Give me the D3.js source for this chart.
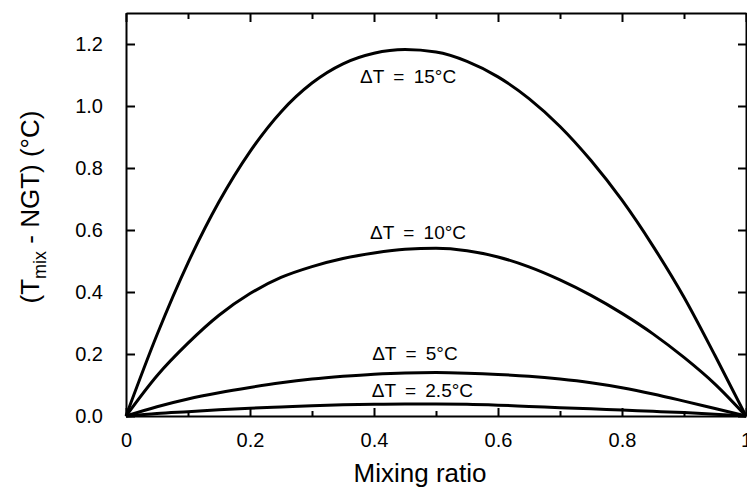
<!DOCTYPE html>
<html>
<head>
<meta charset="utf-8">
<script src="https://cdn.jsdelivr.net/npm/d3@7"></script>
<style>
  html, body { margin: 0; padding: 0; background: #fff; }
  svg { display: block; font-family: "Liberation Sans", Arial, Helvetica, sans-serif; }
</style>
</head>
<body>
<svg id="chart" width="747" height="489"></svg>
<script>
// ---- data ----
const mixingRatio = [0, 0.05, 0.1, 0.15, 0.2, 0.25, 0.3, 0.35, 0.4, 0.45, 0.5, 0.55, 0.6, 0.65, 0.7, 0.75, 0.8, 0.85, 0.9, 0.95, 1.0];
const dT15  = [0, 0.262, 0.494, 0.691, 0.853, 0.981, 1.074, 1.136, 1.170, 1.182, 1.174, 1.144, 1.094, 1.024, 0.934, 0.824, 0.696, 0.548, 0.383, 0.195, 0];
const dT10  = [0, 0.13, 0.235, 0.325, 0.395, 0.447, 0.482, 0.508, 0.526, 0.538, 0.541, 0.533, 0.513, 0.481, 0.439, 0.389, 0.331, 0.265, 0.189, 0.103, 0];
const dT5   = [0, 0.030, 0.055, 0.075, 0.092, 0.107, 0.119, 0.128, 0.135, 0.139, 0.140, 0.138, 0.134, 0.128, 0.119, 0.107, 0.091, 0.071, 0.048, 0.024, 0];
const dT2_5 = [0, 0.008, 0.014, 0.02, 0.025, 0.029, 0.033, 0.036, 0.038, 0.039, 0.039, 0.038, 0.035, 0.031, 0.027, 0.023, 0.019, 0.015, 0.011, 0.006, 0];
const seriesNames = ["ΔT = 15°C", "ΔT = 10°C", "ΔT = 5°C", "ΔT = 2.5°C"];
const labelAtX = [0.455, 0.471, 0.466, 0.478];
const labelAtY = [1.074, 0.572, 0.180, 0.062];
const xTicks = [0, 0.2, 0.4, 0.6, 0.8, 1];
const xTickLabels = ["0", "0.2", "0.4", "0.6", "0.8", "1"];
const xMinorTicks = [0.1, 0.3, 0.5, 0.7, 0.9];
const yTicks = [0, 0.2, 0.4, 0.6, 0.8, 1.0, 1.2];
const yTickLabels = ["0.0", "0.2", "0.4", "0.6", "0.8", "1.0", "1.2"];

const series = [dT15, dT10, dT5, dT2_5];

// ---- layout ----
const svg = d3.select("#chart");
const mLeft = 126, mRight = 746, mTop = 13, mBottom = 416;
const x = d3.scaleLinear().domain([0, 1]).range([mLeft, mRight]);
const y = d3.scaleLinear().domain([0, 1.3]).range([mBottom, mTop]);

const axisStyle = g => {
  g.selectAll("path.domain").attr("stroke", "#000").attr("stroke-width", 2);
  g.selectAll(".tick line").attr("stroke", "#000").attr("stroke-width", 2);
  g.selectAll(".tick text").attr("fill", "#000");
};

// bottom axis (ticks inward)
const gx = svg.append("g").attr("transform", `translate(0,${mBottom})`)
  .call(d3.axisBottom(x).tickValues(xTicks).tickSizeInner(-8).tickSizeOuter(0)
    .tickFormat((d, i) => xTickLabels[i]).tickPadding(17))
  .call(axisStyle);
gx.selectAll(".tick text").attr("font-size", 20).attr("font-family", "Liberation Sans, Arial, sans-serif");
svg.append("g").attr("transform", `translate(0,${mBottom})`)
  .call(d3.axisBottom(x).tickValues(xMinorTicks).tickSizeInner(-5).tickSizeOuter(0).tickFormat(""))
  .call(axisStyle).select("path.domain").remove();

// top axis
svg.append("g").attr("transform", `translate(0,${mTop})`)
  .call(d3.axisTop(x).tickValues(xTicks).tickSizeInner(-9).tickSizeOuter(0).tickFormat(""))
  .call(axisStyle);
svg.append("g").attr("transform", `translate(0,${mTop})`)
  .call(d3.axisTop(x).tickValues(xMinorTicks).tickSizeInner(-6).tickSizeOuter(0).tickFormat(""))
  .call(axisStyle).select("path.domain").remove();

// left axis
const gy = svg.append("g").attr("transform", `translate(${mLeft},0)`)
  .call(d3.axisLeft(y).tickValues(yTicks).tickSizeInner(-9).tickSizeOuter(0)
    .tickFormat((d, i) => yTickLabels[i]).tickPadding(23))
  .call(axisStyle);
gy.selectAll(".tick text").attr("font-size", 20).attr("font-family", "Liberation Sans, Arial, sans-serif");

// right axis
svg.append("g").attr("transform", `translate(${mRight},0)`)
  .call(d3.axisRight(y).tickValues(yTicks).tickSizeInner(-8).tickSizeOuter(0).tickFormat(""))
  .call(axisStyle);

// curves
const line = d3.line()
  .x((d, i) => x(mixingRatio[i]))
  .y(d => y(d))
  .curve(d3.curveMonotoneX);

svg.append("g").selectAll("path.curve")
  .data(series)
  .join("path")
  .attr("class", "curve")
  .attr("d", line)
  .attr("fill", "none")
  .attr("stroke", "#000")
  .attr("stroke-width", 3)
  .attr("stroke-linejoin", "round");

// curve labels
svg.append("g").selectAll("text")
  .data(seriesNames)
  .join("text")
  .attr("x", (d, i) => x(labelAtX[i]))
  .attr("y", (d, i) => y(labelAtY[i]))
  .attr("text-anchor", "middle")
  .attr("font-size", 19)
  .attr("word-spacing", 4)
  .attr("fill", "#000")
  .text(d => d);

// axis titles
svg.append("text")
  .attr("x", (mLeft + mRight) / 2 - 16)
  .attr("y", 482)
  .attr("text-anchor", "middle")
  .attr("font-size", 26)
  .attr("fill", "#000")
  .text("Mixing ratio");

const yt = svg.append("text")
  .attr("transform", "translate(39,207) rotate(-90)")
  .attr("text-anchor", "middle")
  .attr("font-size", 26)
  .attr("fill", "#000");
yt.append("tspan").text("(T");
yt.append("tspan").attr("font-size", 18).attr("dy", 7).text("mix");
yt.append("tspan").attr("dy", -7).text(" - NGT) (°C)");
</script>
</body>
</html>
